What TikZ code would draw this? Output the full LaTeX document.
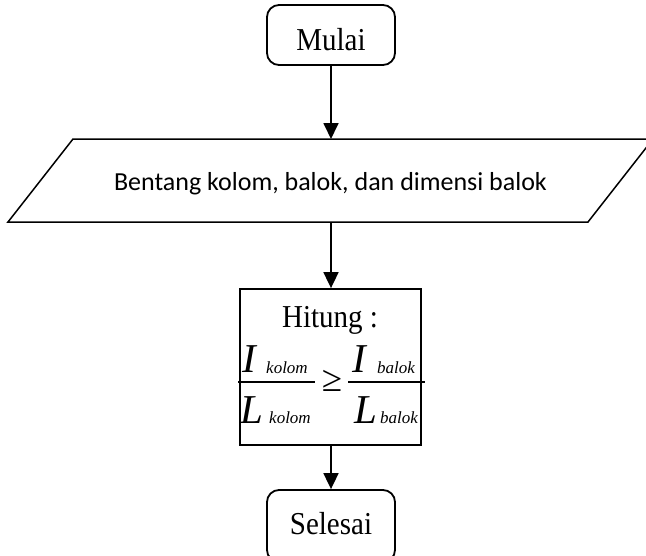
\documentclass[tikz,border=0pt]{standalone}
\usepackage{fontspec}
\setmainfont{Liberation Serif}
\newfontfamily\calibrifont{Carlito}
\usetikzlibrary{arrows.meta}
\newcommand{\tallserif}[1]{\scalebox{1}[1.1]{#1}}
\begin{document}
\begin{tikzpicture}[x=1pt,y=-1pt,
  terminal/.style={draw,line width=1.8pt,rounded corners=12pt,minimum width=128pt,
    inner sep=0pt,text depth=0pt,font=\fontsize{29}{32}\selectfont},
  procbox/.style={draw,line width=1.8pt,inner sep=0pt,minimum width=181pt,minimum height=156pt},
  flow/.style={line width=1.8pt,-{Triangle[length=16pt,width=15pt]}},
  bigsym/.style={inner sep=0pt,anchor=base west,font=\fontsize{41}{44}\selectfont\itshape},
  subsym/.style={inner sep=0pt,anchor=base west,font=\fontsize{17}{19}\selectfont\itshape},
  fracbar/.style={line width=1.6pt}]
\useasboundingbox (0,0) rectangle (646,555);

% start / end terminals
\node[terminal,minimum height=60pt,text height=30pt] (start) at (331,35) {\tallserif{Mulai}};
\node[terminal,minimum height=72pt,text height=16pt] (stop) at (331,526) {\tallserif{Selesai}};

% input parallelogram
\node[inner sep=0pt,minimum width=580pt,minimum height=83pt,text height=19pt,text depth=0pt,
      font=\calibrifont\fontsize{26}{28}\selectfont] (input) at (330.5,180.5)
  {Bentang kolom, balok, dan dimensi balok};
\draw[line width=1.5pt,line join=miter] (8,222) -- (73,139) -- (653,139) -- (588,222) -- cycle;

% calculation box
\node[procbox] (calc) at (330.5,367) {};
\node[inner sep=0pt,anchor=base,font=\fontsize{29}{32}\selectfont] (hitung) at (330,327) {\tallserif{Hitung :}};

% left fraction: I_kolom / L_kolom
\node[bigsym] (ik) at (242,372) {I};
\node[subsym] (ksub1) at (266,373) {kolom};
\draw[fracbar] (238,382) -- (315,382);
\node[bigsym] (lk) at (240,423) {L};
\node[subsym] (ksub2) at (269,423) {kolom};

% relation
\node[inner sep=0pt,font=\fontsize{37}{40}\selectfont] (geq) at (332,381) {≥};

% right fraction: I_balok / L_balok
\node[bigsym] (ib) at (352,372) {I};
\node[subsym] (bsub1) at (377,373) {balok};
\draw[fracbar] (348,382) -- (425,382);
\node[bigsym] (lb) at (354,423) {L};
\node[subsym] (bsub2) at (380,423) {balok};

% connectors
\draw[flow] (start.south) -- (331,139);
\draw[flow] (331,222) -- (calc.north -| start);
\draw[flow] (calc.south -| start) -- (stop.north);
\end{tikzpicture}
\end{document}
